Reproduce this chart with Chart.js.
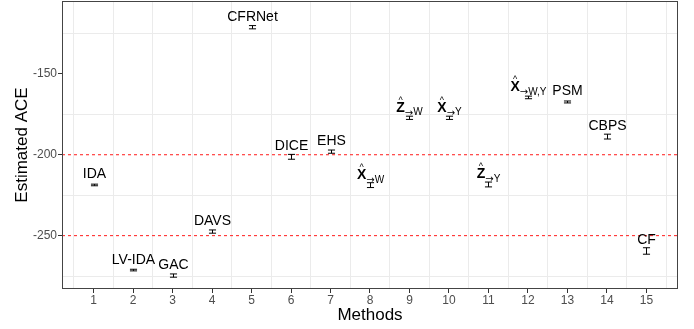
<!DOCTYPE html>
<html>
<head>
<meta charset="utf-8">
<script src="https://cdn.jsdelivr.net/npm/chart.js@4.4.1/dist/chart.umd.min.js"></script>
<style>
  body { margin: 0; background: #fff; }
  canvas { display: block; }
</style>
</head>
<body>
<canvas id="ace-chart" width="694" height="329"></canvas>
<script>
// data
var methodIndex = [1,2,3,4,5,6,7,8,9,10,11,12,13,14,15];
var methodLabels = ['IDA','LV-IDA','GAC','DAVS','CFRNet','DICE','EHS',
  'X\u0302\u2192W','Z\u0302\u2192W','X\u0302\u2192Y','Z\u0302\u2192Y','X\u0302\u2192W,Y',
  'PSM','CBPS','CF'];
var estimates = [-218.7,-271.3,-274.7,-247.5,-121.2,-201.3,-198.1,-218.8,-177.2,-177.2,-218.4,-164.6,-167.4,-188.8,-259.5];
var halfWidth = [0.5,0.5,1.0,1.0,1.0,1.5,1.0,1.5,1.0,1.0,1.5,0.8,0.6,1.5,2.0];
var refLines = [-200,-250];
var xTickLabels = ['1','2','3','4','5','6','7','8','9','10','11','12','13','14','15'];
var yTickLabels = [-250,-200,-150];
var xGrid = [0.5,1,1.5,2,2.5,3,3.5,4,4.5,5,5.5,6,6.5,7,7.5,8,8.5,9,9.5,10,10.5,11,11.5,12,12.5,13,13.5,14,14.5,15,15.5];
var yGrid = [-275,-250,-225,-200,-175,-150,-125];

var FONT = '"Liberation Sans", Arial, Helvetica, sans-serif';
Chart.defaults.font.family = FONT;

function drawLabel(ctx, text, x, y) {
  var hat = text.indexOf('\u0302');
  ctx.fillStyle = '#000';
  ctx.textBaseline = 'alphabetic';
  if (hat < 0) {
    ctx.font = '14px ' + FONT;
    ctx.textAlign = 'center';
    ctx.fillText(text, x, y - 6.5);
    return;
  }
  // plotmath-like label: bold letter with hat, subscript arrow + letters
  var main = text.slice(0, hat);
  var arrow = text.charAt(hat + 1);
  var sub = text.slice(hat + 2);
  var arrowFont = '10px "DejaVu Sans", sans-serif';
  ctx.font = 'bold 14px ' + FONT;
  var mw = ctx.measureText(main).width;
  ctx.font = arrowFont;
  var aw = ctx.measureText(arrow).width;
  ctx.font = '10px ' + FONT;
  var sw = ctx.measureText(sub).width;
  var x0 = x - (mw + aw + sw) / 2;
  ctx.textAlign = 'left';
  ctx.font = 'bold 14px ' + FONT;
  ctx.fillText(main, x0, y - 6);
  ctx.font = arrowFont;
  ctx.fillText(arrow, x0 + mw, y - 2);
  ctx.font = '10px ' + FONT;
  ctx.fillText(sub, x0 + mw + aw, y - 2.5);
  ctx.font = '9px ' + FONT;
  ctx.textAlign = 'center';
  ctx.fillText('^', x0 + mw / 2, y - 15);
}

var panelPlugin = {
  id: 'panel',
  beforeDatasetsDraw: function(chart) {
    var ctx = chart.ctx, a = chart.chartArea, ys = chart.scales.y;
    ctx.save();
    ctx.strokeStyle = '#FF3030';
    ctx.lineWidth = 1.1;
    ctx.setLineDash([3,3]);
    refLines.forEach(function(v) {
      var py = ys.getPixelForValue(v);
      ctx.beginPath();
      ctx.moveTo(a.left, py);
      ctx.lineTo(a.right, py);
      ctx.stroke();
    });
    ctx.restore();
  },
  afterDatasetsDraw: function(chart) {
    var ctx = chart.ctx, xs = chart.scales.x, ys = chart.scales.y;
    ctx.save();
    ctx.strokeStyle = '#000';
    ctx.lineWidth = 1;
    for (var i = 0; i < estimates.length; i++) {
      var px = Math.round(xs.getPixelForValue(methodIndex[i])) + 0.5;
      var cap = (xs.getPixelForValue(methodIndex[i] + 0.09) - xs.getPixelForValue(methodIndex[i]));
      var top = ys.getPixelForValue(estimates[i] + halfWidth[i]);
      var bot = ys.getPixelForValue(estimates[i] - halfWidth[i]);
      ctx.beginPath();
      ctx.moveTo(px, top); ctx.lineTo(px, bot);
      ctx.moveTo(px - cap, top); ctx.lineTo(px + cap, top);
      ctx.moveTo(px - cap, bot); ctx.lineTo(px + cap, bot);
      ctx.stroke();
      drawLabel(ctx, methodLabels[i], px, ys.getPixelForValue(estimates[i]));
    }
    ctx.restore();
  },
  afterDraw: function(chart) {
    var ctx = chart.ctx, a = chart.chartArea;
    ctx.save();
    ctx.strokeStyle = '#444';
    ctx.lineWidth = 1;
    ctx.strokeRect(a.left + 0.5, a.top + 0.5, a.right - a.left - 1, a.bottom - a.top - 1);
    ctx.restore();
  }
};

new Chart(document.getElementById('ace-chart'), {
  type: 'scatter',
  data: {
    datasets: [{
      data: estimates.map(function(v, i) { return {x: methodIndex[i], y: v}; }),
      pointRadius: 0
    }]
  },
  options: {
    responsive: false,
    animation: false,
    layout: { padding: {top: 1, right: 16, bottom: 0, left: 0} },
    plugins: { legend: {display: false}, tooltip: {enabled: false} },
    scales: {
      x: {
        type: 'linear', min: 0.2, max: 15.8,
        afterBuildTicks: function(s) { s.ticks = xGrid.map(function(v) { return {value: v}; }); },
        afterFit: function(s) { s.height = 40; s.paddingLeft = 0; s.paddingRight = 0; },
        ticks: {
          autoSkip: false, maxRotation: 0, padding: 0, color: '#4D4D4D', font: {size: 12},
          callback: function(v) { return Number.isInteger(v) ? xTickLabels[v - 1] : ''; }
        },
        grid: {
          lineWidth: 1, tickLength: 4,
          color: function(c) { return c.tick && Number.isInteger(c.tick.value) ? 'rgba(0,0,0,0)' : '#EBEBEB'; },
          tickColor: function(c) { return c.tick && Number.isInteger(c.tick.value) ? '#333' : 'rgba(0,0,0,0)'; }
        },
        border: {display: false},
        title: {display: true, text: 'Methods', color: '#000', font: {size: 17}, padding: {top: 0, bottom: 3}}
      },
      y: {
        type: 'linear', min: -283, max: -105,
        afterBuildTicks: function(s) { s.ticks = yGrid.map(function(v) { return {value: v}; }); },
        afterFit: function(s) { s.width = 62; s.paddingTop = 0; s.paddingBottom = 0; },
        ticks: {
          padding: 1, color: '#4D4D4D', font: {size: 12},
          callback: function(v) { return yTickLabels.indexOf(v) >= 0 ? String(v) : ''; }
        },
        grid: {
          lineWidth: 1, tickLength: 4,
          color: function(c) { return c.tick && yTickLabels.indexOf(c.tick.value) >= 0 ? 'rgba(0,0,0,0)' : '#EBEBEB'; },
          tickColor: function(c) { return c.tick && yTickLabels.indexOf(c.tick.value) >= 0 ? '#333' : 'rgba(0,0,0,0)'; }
        },
        border: {display: false},
        title: {display: true, text: 'Estimated ACE', color: '#000', font: {size: 17}, padding: {top: 12, bottom: 0}}
      }
    }
  },
  plugins: [panelPlugin]
});
</script>
</body>
</html>
